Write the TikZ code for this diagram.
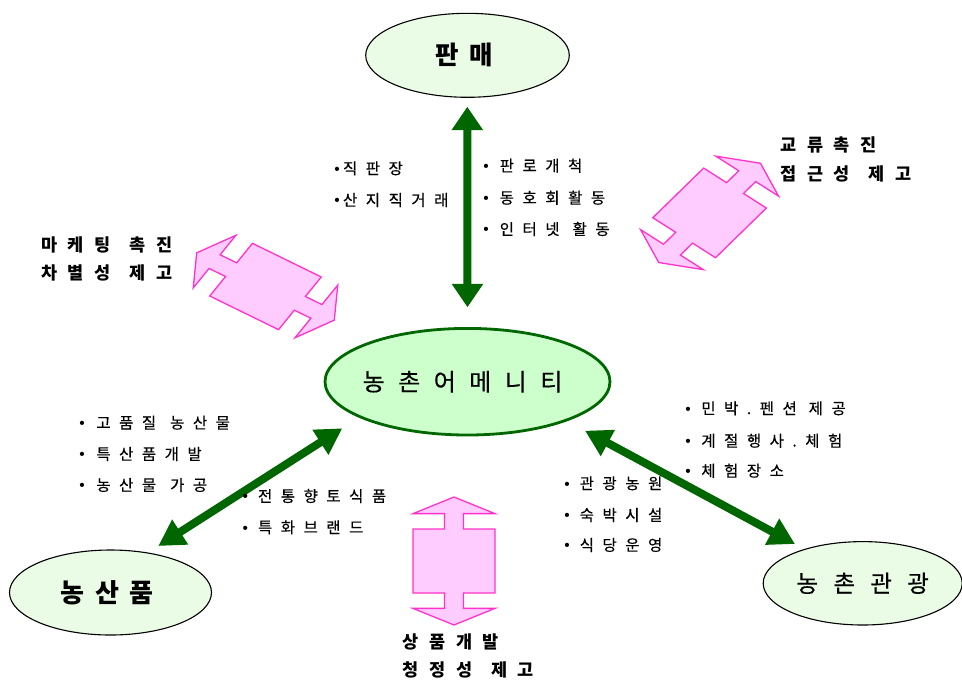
\documentclass[tikz,border=0pt]{standalone}
\usepackage{fontspec}
\setmainfont{Noto Sans CJK KR}
\newfontfamily\krA[LetterSpace=55, UprightFeatures={FakeBold=0.35}]{Noto Sans CJK KR}
\newfontfamily\krL[LetterSpace=60]{Noto Sans CJK KR}
\newfontfamily\krB[LetterSpace=40]{Noto Sans CJK KR}
\newfontfamily\krC[LetterSpace=56, FakeBold=0.3]{Noto Sans CJK KR}
\newfontfamily\krD[LetterSpace=65, FakeBold=0.3]{Noto Sans CJK KR}
\newfontfamily\bulfont{Liberation Sans}
\usetikzlibrary{shapes.geometric,arrows.meta}
\definecolor{lgreen}{RGB}{234,252,230}
\definecolor{cgreen}{RGB}{204,255,204}
\definecolor{dgreen}{RGB}{0,102,0}
\definecolor{pfill}{RGB}{255,204,255}
\definecolor{pline}{RGB}{255,51,204}
\newcommand\bu{{\bulfont •}}
\newcommand\pinkarrow[4]{%
  \begin{scope}[shift={#1}, x={#2}, y={#3}]
  \filldraw[pinkshape] (-1,0) -- (-0.74,1) -- (-0.74,#4) -- (-0.5,#4) -- (-0.5,1) -- (0.5,1) -- (0.5,#4) -- (0.74,#4) -- (0.74,1) -- (1,0) -- (0.74,-1) -- (0.74,-#4) -- (0.5,-#4) -- (0.5,-1) -- (-0.5,-1) -- (-0.5,-#4) -- (-0.74,-#4) -- (-0.74,-1) -- cycle;
  \end{scope}}
\begin{document}
\begin{tikzpicture}[x=1pt,y=-1pt,
  outerell/.style={ellipse, draw=black, line width=1.1pt, fill=lgreen, inner sep=0pt},
  pinkshape/.style={fill=pfill, draw=pline, line width=1.3pt, line join=miter},
  bullettext/.style={anchor=west, inner sep=0pt, font=\krA\fontsize{15.5}{18}\selectfont},
  boldlabel/.style={anchor=west, inner sep=0pt, font=\krL\bfseries\fontsize{17.5}{20}\selectfont},
  vgarrow/.style={draw=dgreen, line width=8pt, {Triangle[length=23.5pt,width=30pt]}-{Triangle[length=23.5pt,width=30pt]}},
  dgarrow/.style={draw=dgreen, line width=8pt, {Triangle[length=26pt,width=28pt]}-{Triangle[length=26pt,width=28pt]}}
]
\path[use as bounding box] (0,0) rectangle (962,681);

% pink double arrows
\pinkarrow{(265.5,286.5)}{(68.8pt,-33.65pt)}{(-21.35pt,-26.35pt)}{0.26}
\pinkarrow{(709.6,212.9)}{(50.85pt,49.65pt)}{(31.35pt,-20pt)}{0.27}
\pinkarrow{(454,561)}{(0pt,-64pt)}{(41pt,0pt)}{0.23}

% ellipses
\node[outerell, minimum width=203.6pt, minimum height=84pt, font=\krB\bfseries\fontsize{25.5}{30}\selectfont] (pm) at (467.5,55.3) {\kern-6pt판매};
\node[ellipse, draw=dgreen, line width=2.8pt, fill=cgreen, inner sep=0pt, minimum width=285pt, minimum height=106.6pt, font=\krC\fontsize{24}{28}\selectfont] (cen) at (467.5,381.7) {\kern-10pt농촌어메니티};
\node[outerell, minimum width=202pt, minimum height=85pt, font=\krB\bfseries\fontsize{26}{30}\selectfont] (np) at (110.5,592.5) {\kern-7pt농산품};
\node[outerell, minimum width=199pt, minimum height=83.4pt, font=\krD\fontsize{23.5}{28}\selectfont] (nt) at (862.7,583.3) {농촌관광};

% green arrows
\coordinate (v1) at (467.3,106.7);
\coordinate (v2) at (467.5,307.3);
\coordinate (l1) at (342.3,428.3);
\coordinate (l2) at (158.3,546);
\coordinate (r1) at (585,430.7);
\coordinate (r2) at (795,544);
\draw[vgarrow] (v1) -- (v2);
\draw[dgarrow] (l1) -- (l2);
\draw[dgarrow] (r1) -- (r2);

% bullet texts
\node[bullettext] (a1) at (334.1,168.3) {\bu\hspace{3.3pt}직판장};
\node[bullettext] (a2) at (334.1,200) {\bu\hspace{3.3pt}산지직거래};

\node[bullettext] (b1) at (483.1,165.7) {\bu\hspace{11pt}판로개척};
\node[bullettext] (b2) at (483.1,197.7) {\bu\hspace{11pt}동호회활동};
\node[bullettext] (b3) at (483.1,229) {\bu\hspace{11pt}인터넷\hspace{13pt}활동};

\node[bullettext] (c1) at (79.1,422.7) {\bu\hspace{11.6pt}고품질\hspace{14pt}농산물};
\node[bullettext] (c2) at (79.1,454) {\bu\hspace{11.6pt}특산품개발};
\node[bullettext] (c3) at (79.1,485) {\bu\hspace{11.6pt}농산물\hspace{14pt}가공};

\node[bullettext] (d1) at (242.4,496) {\bu\hspace{10pt}전통향토식품};
\node[bullettext] (d2) at (242.4,527.3) {\bu\hspace{10pt}특화브랜드};

\node[bullettext] (e1) at (685.1,408.3) {\bu\hspace{10.6pt}민박.펜션\hspace{12pt}제공};
\node[bullettext] (e2) at (685.1,440.7) {\bu\hspace{10.6pt}계절행사.체험};
\node[bullettext] (e3) at (685.1,470.7) {\bu\hspace{10.6pt}체험장소};

\node[bullettext] (f1) at (564.1,483.3) {\bu\hspace{10pt}관광농원};
\node[bullettext] (f2) at (564.1,515) {\bu\hspace{10pt}숙박시설};
\node[bullettext] (f3) at (564.1,545) {\bu\hspace{10pt}식당운영};

% bold labels
\node[boldlabel] (g1) at (41,245) {마케팅\hspace{19pt}촉진};
\node[boldlabel] (g2) at (41,273.3) {차별성\hspace{19pt}제고};
\node[boldlabel] (h1) at (780.3,145) {교류촉진};
\node[boldlabel] (h2) at (780.3,174) {접근성\hspace{19pt}제고};
\node[boldlabel] (k1) at (402.6,641.7) {상품개발};
\node[boldlabel] (k2) at (402.6,670) {청정성\hspace{19pt}제고};
\end{tikzpicture}
\end{document}
